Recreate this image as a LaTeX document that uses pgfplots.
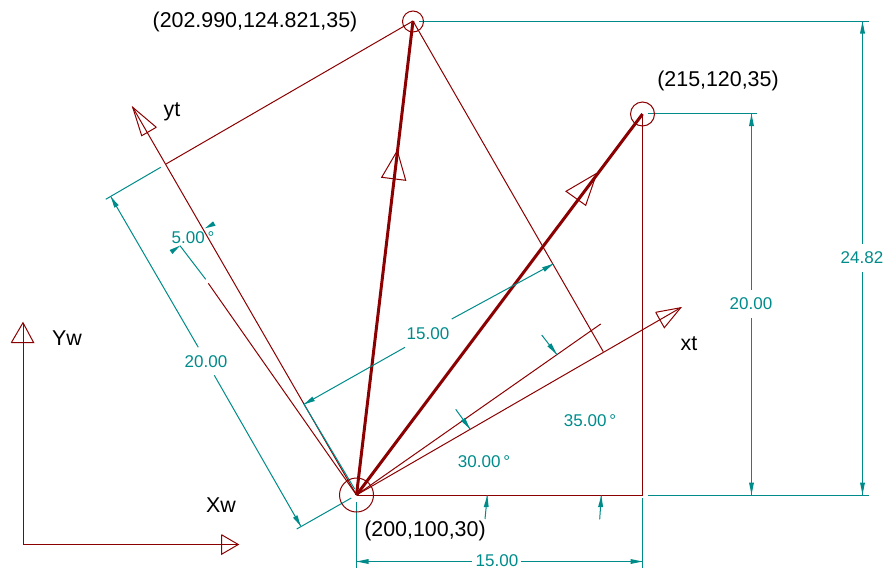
\documentclass[border=0pt]{standalone}
\usepackage{fontspec}
\setmainfont{Liberation Sans}
\usepackage{pgfplots}
\pgfplotsset{compat=1.18}
\definecolor{geom}{RGB}{139,0,0}
\definecolor{dim}{RGB}{0,139,139}
% coordinates are pixels of the drawing, y downwards
\newcommand\red[1]{\addplot[geom,line width=1pt] coordinates {#1};}
\newcommand\dimln[1]{\addplot[dim,line width=1pt] coordinates {#1};}
\newcommand\tip[1]{\addplot[fill=dim,draw=none] coordinates {#1};}
\newcommand\blk{\fontsize{21.4}{21.4}\selectfont}
\newcommand\tl{\fontsize{17}{17}\selectfont\color{dim}}
\begin{document}
\begin{tikzpicture}
\path[use as bounding box] (0,0) rectangle (886pt,568pt);
\begin{axis}[
  at={(0,0)}, anchor=south west,
  scale only axis,
  width=886pt, height=568pt,
  xmin=0, xmax=886, ymin=0, ymax=568,
  y dir=reverse,
  hide axis,
  clip=false,
]
% world axes
\red{(23,544.5) (23,322.7)}
\red{(11.3,342.7) (33.7,342.7) (23,322.7) (11.3,342.7)}
\red{(23,544.5) (238.3,544.5)}
\red{(221.5,534.7) (238.3,544.5) (221.5,554.3) (221.5,534.7)}
% tool axes
\red{(356.5,495) (680.7,307.7)}
\red{(655.7,312.3) (680.7,307.7) (664.3,327.7) (655.7,312.3)}
\red{(356.5,495) (132.7,107.3)}
\red{(156.3,127.3) (132.7,107.3) (141.7,135.7) (156.3,127.3)}
% construction lines
\red{(642.5,114) (642.5,495)}
\red{(356.5,495) (642.5,495)}
\red{(413,21) (603.3,351.7)}
\red{(413,21) (166,164)}
\red{(356.5,495) (600.7,324)}
\red{(356.5,495) (208.3,283.3)}
% vectors
\addplot[geom,line width=3pt] coordinates {(356.5,495) (413,21)};
\addplot[geom,line width=3pt] coordinates {(356.5,495) (642.5,114)};
\red{(397.3,150.7) (381.7,177.3) (405.7,180.3) (397.3,150.7)}
\red{(596.7,173.3) (566,191.3) (585.7,205.3) (596.7,173.3)}
% points
\addplot[geom,only marks,mark=o,mark size=17,mark options={line width=1pt}] coordinates {(356.5,495)};
\addplot[geom,only marks,mark=o,mark size=10.5,mark options={line width=1pt}] coordinates {(413,21.5)};
\addplot[geom,only marks,mark=o,mark size=12,mark options={line width=1pt}] coordinates {(642.5,114)};
% left 20.00
\dimln{(296.7,529) (351.3,498)}
\dimln{(105.7,199.3) (160.7,167.3)}
\dimln{(111,197) (198.3,347.3)}
\dimln{(214.3,375.3) (300.7,526)}
\tip{(300.7,526) (297.4,515.2) (293,517.7)}
\tip{(111,197) (118.7,205.2) (114.3,207.7)}
% middle 15.00
\dimln{(304,404.3) (354.7,489)}
\dimln{(304,404.3) (405,347.3)}
\dimln{(451.7,319) (553,264)}
\tip{(304,404.3) (314.8,401) (312.3,396.6)}
\tip{(553,264) (544.8,271.7) (542.2,267.3)}
% bottom 15.00
\dimln{(356.5,502) (356.5,568)}
\dimln{(642.5,498) (642.5,568)}
\dimln{(356.5,561.5) (471.7,561.5)}
\dimln{(521,561.5) (642.5,561.5)}
\tip{(356.5,561.5) (368.5,559) (368.5,564)}
\tip{(642.5,561.5) (630.5,559) (630.5,564)}
% right 20.00
\dimln{(648,113.5) (757,113.5)}
\dimln{(648,495) (758,495)}
\dimln{(751.5,114) (751.5,290)}
\dimln{(751.5,318) (751.5,495)}
\tip{(751.5,114) (749,126) (754,126)}
\tip{(751.5,494.5) (749,482.5) (754,482.5)}
% right 24.82
\dimln{(419,21.5) (869,21.5)}
\dimln{(648,495) (869,495)}
\dimln{(862.5,21.5) (862.5,244)}
\dimln{(862.5,272) (862.5,495)}
\tip{(862.5,21.5) (860,33.5) (865,33.5)}
\tip{(862.5,494.5) (860,482.5) (865,482.5)}
% angles
\dimln{(205.7,279.3) (180,245.7)}
\tip{(180,245.7) (172.4,254) (169.6,250)}
\tip{(205,228.3) (215.5,225.7) (213.1,221.3)}
\dimln{(455.7,409.3) (470,429)}
\tip{(470,429) (465,417.8) (461,420.8)}
\dimln{(541.7,335) (556.7,354.3)}
\tip{(556.7,354.3) (551.4,343.3) (547.4,346.3)}
\dimln{(485,519) (487.3,495.5)}
\tip{(487.3,495.5) (488.7,507) (483.7,507)}
\dimln{(599.7,519.3) (601.3,495.5)}
\tip{(601.3,495.5) (603.1,507) (598.1,507)}
% text
\node[font=\blk] at (axis cs:255,21.5) {(202.990,124.821,35)};
\node[font=\blk] at (axis cs:718,80.5) {(215,120,35)};
\node[font=\blk] at (axis cs:425,531) {(200,100,30)};
\node[font=\blk] at (axis cs:172,112) {yt};
\node[font=\blk] at (axis cs:689,344) {xt};
\node[font=\blk] at (axis cs:67,338) {Yw};
\node[font=\blk] at (axis cs:221,505.5) {Xw};
\node[font=\tl] at (axis cs:206,361.5) {20.00};
\node[font=\tl] at (axis cs:428,334) {15.00};
\node[font=\tl,inner sep=0pt] at (axis cs:497,560.5) {15.00};
\node[font=\tl] at (axis cs:751,304) {20.00};
\node[font=\tl] at (axis cs:862,258) {24.82};
\node[font=\tl] at (axis cs:193,237.5) {5.00\,°};
\node[font=\tl] at (axis cs:484,461.5) {30.00\,°};
\node[font=\tl] at (axis cs:590,421) {35.00\,°};
\end{axis}
\end{tikzpicture}
\end{document}
